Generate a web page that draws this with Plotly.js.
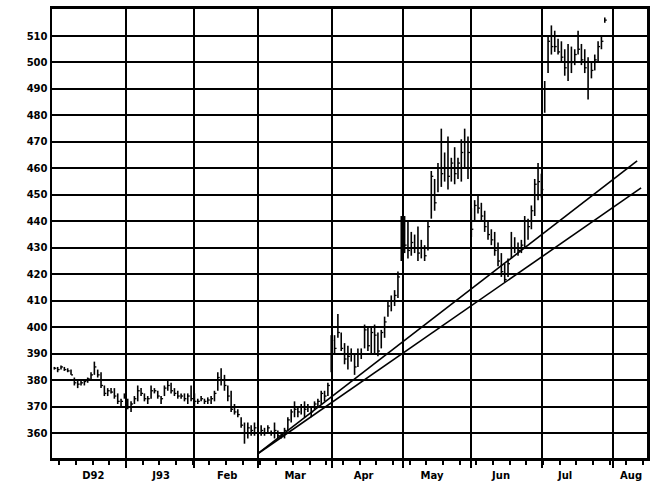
<!DOCTYPE html>
<html><head><meta charset="utf-8">
<script src="https://cdn.plot.ly/plotly-3.0.1.min.js"></script>
<style>html,body{margin:0;padding:0;background:#fff}#chart{width:671px;height:491px}</style>
</head><body><div id="chart"></div>
<script>
// Daily high / low / close, Dec 1992 - Jul 1993 (one entry per trading day)
const lows = [
  // Dec
  384,383,384,383.5,383,382,378,377,378,378,379,380,382,381,377,374,374,375,373,371,370,373,
  // Jan
  369,368,371,372,374,372,371,373,375,373,371,374,376,375,374,373,373,372,371,372,
  // Feb
  370,371,372,371,371,371,372,376,378,376,372,368,367,366,362,356,358,359,359,
  // Mar
  358,359,359,360,359,358,358,358,358,361,364,366,366,367,366,368,366,369,370,371,372,374,383,
  // Apr
  390,396,391,386,384,387,382,385,388,392,391,390,390,389,392,396,404,406,408,411,425,
  // May
  428,426,427,428,425,426,425,429,441,444,451,453,455,452,455,454,456,455,460,456,
  // Jun
  434,440,443,440,436,433,431,427,423,419,417,419,426,428,427,428,430,433,437,442,448,449,
  // Jul
  481,496,503,504,503,500,495,493,496,499,503,499,496,486,494,497,500,505,515
];
const highs = [
  385,385,385.5,385,384.5,384,381,380,380,380,381,383,387,384,383,378,377,377,377,375,373,375,
  373,372,374,378,377,375,374,378,377,376,374,378,380,379,377,376,375,375,375,378,
  375,373,374,373,373.5,374,376,383,384.5,382,378,376,371,369,366,364,364,363,364,
  362,363,362,363,361,364,361,360,362,366,369,372,370,371,372,371,370,372,373,376,376,379,397,
  397,405,398,394,393,392,390,392,392,401,400,400,401,398,399,404,410,412,414,421,442,
  442,440,436,435,438,433,431,440,459,456,462,475,466,472,464,468,464,471,475,472,
  445,448,450,447,444,440,437,436,432,428,424,426,436,434,432,433,442,441,446,456,462,458,
  493,510,514,512,509,508,505,507,506,505,512,507,505,502,500,503,508,510,517
];
const closes = [
  384.5,384,385,384,383.5,382,379,378.5,379,379.5,380.5,382,385,382,378,375,376,375.5,374,372,372,374,
  370,371,373,376,375,373,373,376,376,374,373,377,378,376,375,374,374,373,374,373,
  372,372,373,372,372.5,373,375,381,380,378,374,369,368,367,363,360,362,361,362,
  360,361,360,362,360,361,359,359,361,365,368,369,368,370,369,370,368,371,372,375,374,378,395,
  392,398,392,388,389,390,385,390,390,399,393,398,397,391,398,402,408,410,412,419,440,
  431,429,432,430,428,430,427,438,457,447,460,458,460,457,462,458,462,466,470,466,
  437,446,445,442,438,435,433,429,425,421,418,424,430,430,429,431,440,438,444,454,455,452,
  490,508,506,506,504,502,498,500,500,503,505,501,498,490,497,501,506,508,516
];

// Axis labels / ticks
const monthBoundaries = [21.5, 41.9, 61.0, 83.2, 104.5, 124.9, 146.2, 167.5];
const monthLabels = ['D92','J93','Feb','Mar','Apr','May','Jun','Jul','Aug'];
const monthLabelPos = [11.7, 32.0, 51.8, 72.2, 92.7, 113.2, 133.9, 153.1, 172.9];
const yTicks = [360,370,380,390,400,410,420,430,440,450,460,470,480,490,500,510];

// Trend lines (day, price)
const upperTrendX = [61.2, 174.7];
const upperTrendY = [352.4, 462.8];
const lowerTrendX = [61.2, 175.9];
const lowerTrendY = [352.4, 452.6];

// Build HLC bars
const bx = [], by = [], cx = [], cy = [];
for (let i = 0; i < highs.length; i++) {
  bx.push(i, i, null); by.push(lows[i], highs[i], null);
  cx.push(i, i + 0.6, null); cy.push(closes[i], closes[i], null);
}

const blk = '#000';
const traces = [
  {type:'scatter', mode:'lines', x:bx, y:by, line:{color:blk, width:1.6}, hoverinfo:'skip', showlegend:false},
  {type:'scatter', mode:'lines', x:cx, y:cy, line:{color:blk, width:1.3}, hoverinfo:'skip', showlegend:false},
  {type:'scatter', mode:'lines', x:upperTrendX, y:upperTrendY, xaxis:'x2', line:{color:blk, width:1.6}, hoverinfo:'skip', showlegend:false},
  {type:'scatter', mode:'lines', x:lowerTrendX, y:lowerTrendY, xaxis:'x2', line:{color:blk, width:1.6}, hoverinfo:'skip', showlegend:false}
];

const tf = {family:'DejaVu Sans, Arial, sans-serif', size:10, weight:'bold', color:blk};
const xr = [-0.7, 177.66];
const layout = {
  width:671, height:491,
  margin:{l:52, r:24, t:9, b:33, pad:0},
  paper_bgcolor:'#fff', plot_bgcolor:'#fff',
  showlegend:false,
  xaxis:{
    range:xr, tickmode:'array', tickvals:monthBoundaries, ticktext:monthBoundaries.map(()=>''),
    showgrid:true, gridcolor:blk, gridwidth:2, zeroline:false,
    showline:true, mirror:true, linecolor:blk, linewidth:3,
    ticks:'outside', ticklen:7, tickwidth:2, tickcolor:blk,
    minor:{tickmode:'linear', tick0:1.5, dtick:5, ticks:'outside', ticklen:4, tickwidth:2, tickcolor:blk, showgrid:false}
  },
  xaxis2:{
    range:xr, overlaying:'x', anchor:'y', side:'bottom',
    tickmode:'array', tickvals:monthLabelPos, ticktext:monthLabels, tickfont:tf,
    showgrid:false, zeroline:false, showline:false,
    ticks:'outside', ticklen:8, tickcolor:'rgba(0,0,0,0)'
  },
  yaxis:{
    range:[350.6, 520.2], tickmode:'array', tickvals:yTicks, ticktext:yTicks.map(String), tickfont:tf,
    showgrid:true, gridcolor:blk, gridwidth:2, zeroline:false,
    showline:true, mirror:true, linecolor:blk, linewidth:2.5, ticks:''
  }
};
Plotly.newPlot('chart', traces, layout, {staticPlot:true, displayModeBar:false});
</script></body></html>
